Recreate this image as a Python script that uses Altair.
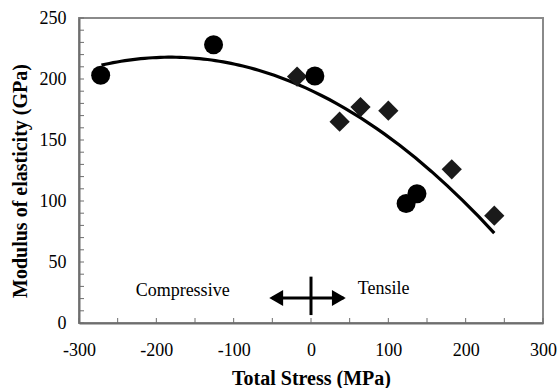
import altair as alt
import pandas as pd

# Data
circle_x = [-272, -126, 5, 123, 137]
circle_y = [203, 228, 202.5, 98, 106]
diamond_x = [-18, 37, 64, 100, 182, 237]
diamond_y = [202, 165, 177, 174, 126, 88]

x_tick_vals = [-300, -250, -200, -150, -100, -50, 0, 50, 100, 150, 200, 250, 300]
x_label_vals = [-300, -200, -100, 0, 100, 200, 300]
y_tick_vals = list(range(0, 251, 10))
y_label_vals = [0, 50, 100, 150, 200, 250]

# annotation (data coordinates)
arrow_y = [20.5]
arrow_line_x = [-50, 42]
arrow_head_left_x = [-45]
arrow_head_right_x = [36]
vline_x = [0]
vline_y = [6.5, 38]
texts = ["Compressive", "Tensile"]
text_x = [-166, 94]
text_y = [26.5, 28]

FONT = "Liberation Serif, Times New Roman, DejaVu Serif, serif"

pts = pd.DataFrame({
    "x": circle_x + diamond_x,
    "y": circle_y + diamond_y,
    "kind": ["circle"] * len(circle_x) + ["diamond"] * len(diamond_x),
})

xs = alt.Scale(domain=[-300, 300], nice=False, zero=False)
ys = alt.Scale(domain=[0, 250], nice=False, zero=False)

x_axis = alt.Axis(values=x_label_vals, ticks=False, tickSize=0, grid=False,
                  labelExpr="'' + datum.value", labelFont=FONT, labelFontSize=18,
                  labelColor="black", labelBaseline="middle", labelPadding=27,
                  labelFlush=False, labelOverlap=False,
                  domainColor="#6e6e6e", domainWidth=2,
                  title="Total Stress (MPa)", titleFont=FONT, titleFontSize=20,
                  titleFontWeight="bold", titleColor="black",
                  titleBaseline="middle", titleX=232, titleY=55)
y_axis = alt.Axis(values=y_label_vals, ticks=False, tickSize=0, grid=False,
                  labelFont=FONT, labelFontSize=18, labelColor="black",
                  labelPadding=13, labelFlush=False, labelOverlap=False,
                  domainColor="#6e6e6e", domainWidth=2,
                  title="Modulus of elasticity (GPa)", titleFont=FONT,
                  titleFontSize=20, titleFontWeight="bold", titleColor="black",
                  titleAngle=-90, titleBaseline="middle", titleX=-59, titleY=162.5)

base = alt.Chart(pts)

fit = base.transform_regression(
    "x", "y", method="poly", order=2, extent=[-271, 237]
).mark_line(color="black", strokeWidth=3.2).encode(
    x=alt.X("x:Q", scale=xs, axis=x_axis),
    y=alt.Y("y:Q", scale=ys, axis=y_axis),
)

circles = base.transform_filter("datum.kind == 'circle'").mark_point(
    shape="circle", filled=True, color="black", opacity=1, size=361
).encode(x=alt.X("x:Q", scale=xs), y=alt.Y("y:Q", scale=ys))

diamonds = base.transform_filter("datum.kind == 'diamond'").mark_point(
    shape="diamond", filled=True, color="#1a1a1a", opacity=1, size=410
).encode(x=alt.X("x:Q", scale=xs), y=alt.Y("y:Q", scale=ys))

ytick = alt.Chart(pd.DataFrame({"v": y_tick_vals})).mark_rule(
    color="#6e6e6e", strokeWidth=1
).encode(y=alt.Y("v:Q", scale=ys), x=alt.value(0), x2=alt.value(5))

xtick = alt.Chart(pd.DataFrame({"v": x_tick_vals})).mark_rule(
    color="#6e6e6e", strokeWidth=1
).encode(x=alt.X("v:Q", scale=xs), y=alt.value(305), y2=alt.value(300))

hline = alt.Chart(pd.DataFrame({"x1": [arrow_line_x[0]], "x2": [arrow_line_x[1]], "y": arrow_y})).mark_rule(
    color="black", strokeWidth=3
).encode(x=alt.X("x1:Q", scale=xs), x2="x2:Q", y=alt.Y("y:Q", scale=ys))

vline = alt.Chart(pd.DataFrame({"x": vline_x, "y1": [vline_y[0]], "y2": [vline_y[1]]})).mark_rule(
    color="black", strokeWidth=3
).encode(x=alt.X("x:Q", scale=xs), y=alt.Y("y1:Q", scale=ys), y2="y2:Q")

head_l = alt.Chart(pd.DataFrame({"x": arrow_head_left_x, "y": arrow_y})).mark_point(
    shape="triangle-left", filled=True, color="black", opacity=1, size=256
).encode(x=alt.X("x:Q", scale=xs), y=alt.Y("y:Q", scale=ys))

head_r = alt.Chart(pd.DataFrame({"x": arrow_head_right_x, "y": arrow_y})).mark_point(
    shape="triangle-right", filled=True, color="black", opacity=1, size=256
).encode(x=alt.X("x:Q", scale=xs), y=alt.Y("y:Q", scale=ys))

labels = alt.Chart(pd.DataFrame({"t": texts, "x": text_x, "y": text_y})).mark_text(
    font=FONT, fontSize=18, color="black", align="center", baseline="middle"
).encode(x=alt.X("x:Q", scale=xs), y=alt.Y("y:Q", scale=ys), text="t:N")

chart = alt.layer(
    fit, ytick, xtick, diamonds, circles, hline, vline, head_l, head_r, labels
).properties(
    width=464, height=305,
    autosize=alt.AutoSizeParams(type="none"),
    padding={"left": 79, "top": 18, "right": 16, "bottom": 65},
    background="white",
).configure_view(stroke="#8a8a8a", strokeWidth=2)

chart.save("out.html", embed_options={"renderer": "svg", "actions": False})
